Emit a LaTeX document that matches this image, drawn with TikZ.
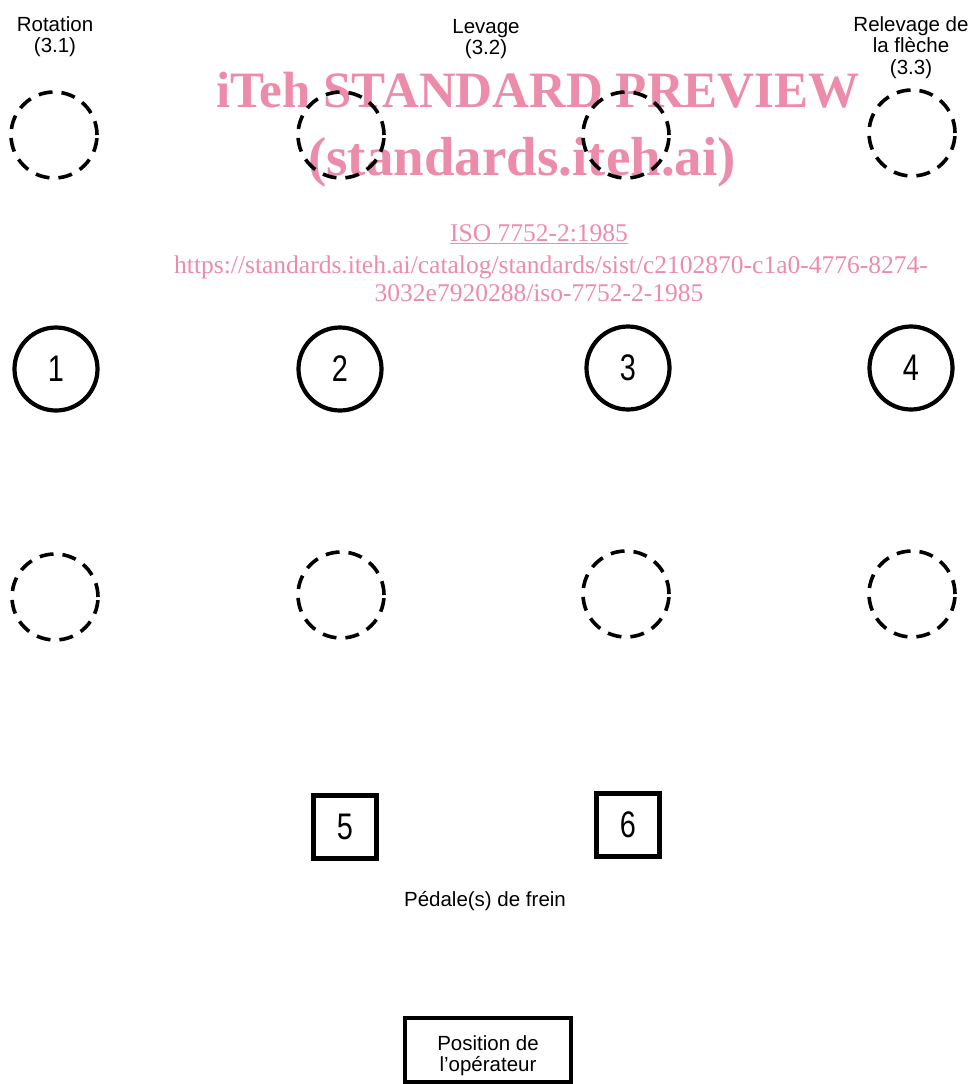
\documentclass[tikz,border=0pt]{standalone}
\usepackage{fontspec}
\setmainfont{Liberation Sans}
\newfontfamily\digitfont[FakeStretch=0.78]{Liberation Sans}
\newfontfamily\wmfont{Liberation Serif}
\usetikzlibrary{positioning}
\definecolor{WaterPink}{RGB}{236,140,170}

\begin{document}
\begin{tikzpicture}[x=1pt, y=-1pt,
  every node/.style={align=center, inner sep=0pt},
  lbl/.style={font=\fontsize{20.5}{21.5}\selectfont, anchor=north},
  ctrl/.style={draw, circle, line width=4.2pt, minimum size=83pt, font=\digitfont\fontsize{37}{37}\selectfont},
  spare/.style={draw, circle, line width=3.6pt, dash pattern=on 14pt off 9pt, minimum size=86pt},
  pedal/.style={draw, line width=5pt, minimum size=63pt, font=\digitfont\fontsize{37}{37}\selectfont},
  opbox/.style={draw, line width=4.5pt, minimum width=166pt, minimum height=64pt},
  wm/.style={text=WaterPink, anchor=base}
]
\useasboundingbox (0,0) rectangle (969,1084);

% watermark
\node[wm, font=\wmfont\bfseries\fontsize{51}{51}\selectfont] (wm1) at (538,107) {iTeh STANDARD PREVIEW};
\node[wm, font=\wmfont\bfseries\fontsize{55}{55}\selectfont] (wm2) at (522,175) {(standards.iteh.ai)};
\node[wm, font=\wmfont\fontsize{25.5}{25.5}\selectfont] (wm3) at (539,241) {\underline{ISO 7752-2:1985}};
\node[wm, font=\wmfont\fontsize{25.5}{25.5}\selectfont] (wm4) at (551,273) {https://standards.iteh.ai/catalog/standards/sist/c2102870-c1a0-4776-8274-};
\node[wm, font=\wmfont\fontsize{25.5}{25.5}\selectfont] (wm5) at (539,301) {3032e7920288/iso-7752-2-1985};

% labels
\node[lbl] (rot) at (55,16) {Rotation\\(3.1)};
\node[lbl] (lev) at (486,19) {Levage\\(3.2)};
\node[lbl] (rel) at (911,16) {Relevage de\\la flèche\\(3.3)};

% top row
\node[spare] (t1) at (54,135) {};
\node[spare] (t2) at (341,135) {};
\node[spare] (t3) at (626,135) {};
\node[spare] (t4) at (912,133) {};

% controls
\node[ctrl] (c1) at (56,369) {1};
\node[ctrl] (c2) at (340,369) {2};
\node[ctrl] (c3) at (628,368) {3};
\node[ctrl] (c4) at (911,368) {4};

% bottom row
\node[spare] (b1) at (55,597) {};
\node[spare] (b2) at (341,595) {};
\node[spare] (b3) at (626,594) {};
\node[spare] (b4) at (912,594) {};

% pedals
\node[pedal] (p5) at (345,827) {5};
\node[pedal] (p6) at (628,825) {6};
\node[lbl, anchor=base] (frein) at (485,906) {Pédale(s) de frein};

% operator
\node[opbox] (op) at (488,1050) {};
\node[lbl] (optxt) at (488,1035) {Position de\\l’opérateur};
\end{tikzpicture}
\end{document}
